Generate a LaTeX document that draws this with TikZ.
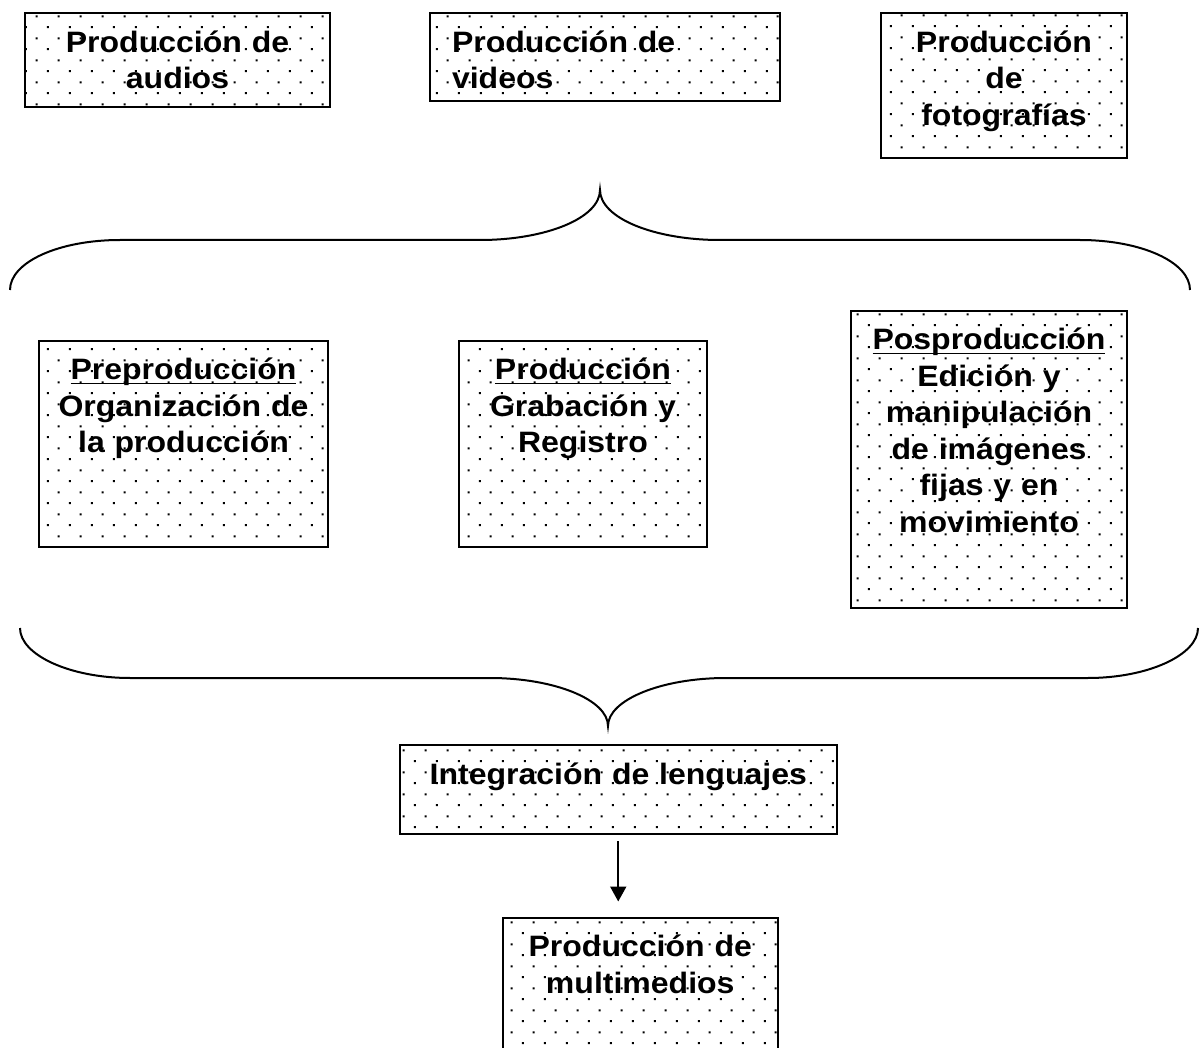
\documentclass[tikz,border=0pt]{standalone}
\usepackage{fontspec}
\newfontfamily\cajafont[FakeStretch=1.085]{Liberation Sans}
\usetikzlibrary{patterns,arrows.meta}
\pgfdeclarepatternformonly{puntos}{\pgfqpoint{0pt}{0pt}}{\pgfqpoint{10.8pt}{10.8pt}}{\pgfqpoint{10.8pt}{10.8pt}}{%
  \pgfpathrectangle{\pgfqpoint{2pt}{2pt}}{\pgfqpoint{1pt}{1pt}}%
  \pgfpathrectangle{\pgfqpoint{7.4pt}{7.4pt}}{\pgfqpoint{1pt}{1pt}}%
  \pgfusepath{fill}}
\newlength\sublen
\newcommand\subrayado[1]{\settowidth\sublen{#1}\rlap{\rule[-2pt]{\sublen}{0.7pt}}#1}
\begin{document}
\begin{tikzpicture}[x=0.5pt,y=-0.5pt,
  caja/.style={draw,line width=1pt,pattern=puntos,anchor=north,inner sep=0pt,align=center,
    font=\cajafont\bfseries\fontsize{14.75pt}{18.25pt}\selectfont,text height=19.5pt},
  llave/.style={line width=1pt},
  flecha/.style={-{Triangle[length=7.5pt,width=8pt]},line width=1pt}]
  \useasboundingbox (0,0) rectangle (1201,1048);
  \clip (0,0) rectangle (1201,1048);
  % Tipos de produccion
  \node[caja,text width=152.5pt,text depth=27.25pt] (audios) at (177.5,12.5) {Producción de\\audios};
  \node[caja,align=left,inner xsep=11pt,text width=153pt,text depth=24.5pt] (videos) at (605,12.5) {Producción de\\videos};
  \node[caja,text width=123pt,text depth=52.75pt] (fotos) at (1004,12.5) {Producción\\de\\fotografías};
  % Llave superior
  \draw[llave] (10,290) .. controls (10,262) and (59,240) .. (120,240) -- (480,240)
    .. controls (546,240) and (600,218) .. (600,190)
    .. controls (600,218) and (654,240) .. (720,240) -- (1080,240)
    .. controls (1141,240) and (1190,262) .. (1190,290);
  % Etapas
  \node[caja,text width=144.5pt,text depth=83.5pt] (pre) at (183.5,340) {\subrayado{Preproducción}\\Organización de\\la producción};
  \node[caja,text width=124pt,text depth=83.5pt] (prod) at (583,340) {\subrayado{Producción}\\Grabación y\\Registro};
  \node[caja,text width=138pt,text depth=128.75pt] (pos) at (989,310) {\subrayado{Posproducción}\\Edición y\\manipulación\\de imágenes\\fijas y en\\movimiento};
  % Llave inferior
  \draw[llave] (20,628) .. controls (20,655) and (70,678) .. (130,678) -- (490,678)
    .. controls (555,678) and (608,700) .. (608,726)
    .. controls (608,700) and (661,678) .. (726,678) -- (1088,678)
    .. controls (1148,678) and (1198,655) .. (1198,628);
  % Integracion y resultado
  \node[caja,text width=218.25pt,text depth=25pt] (integ) at (618.25,744) {Integración de lenguajes};
  \node[caja,text width=137.75pt,text depth=52.25pt] (multi) at (640.25,916.5) {Producción de\\multimedios};
  \draw[flecha,shorten <=3pt,shorten >=7.5pt] (integ.south) -- (integ.south |- multi.north);
\end{tikzpicture}
\end{document}
